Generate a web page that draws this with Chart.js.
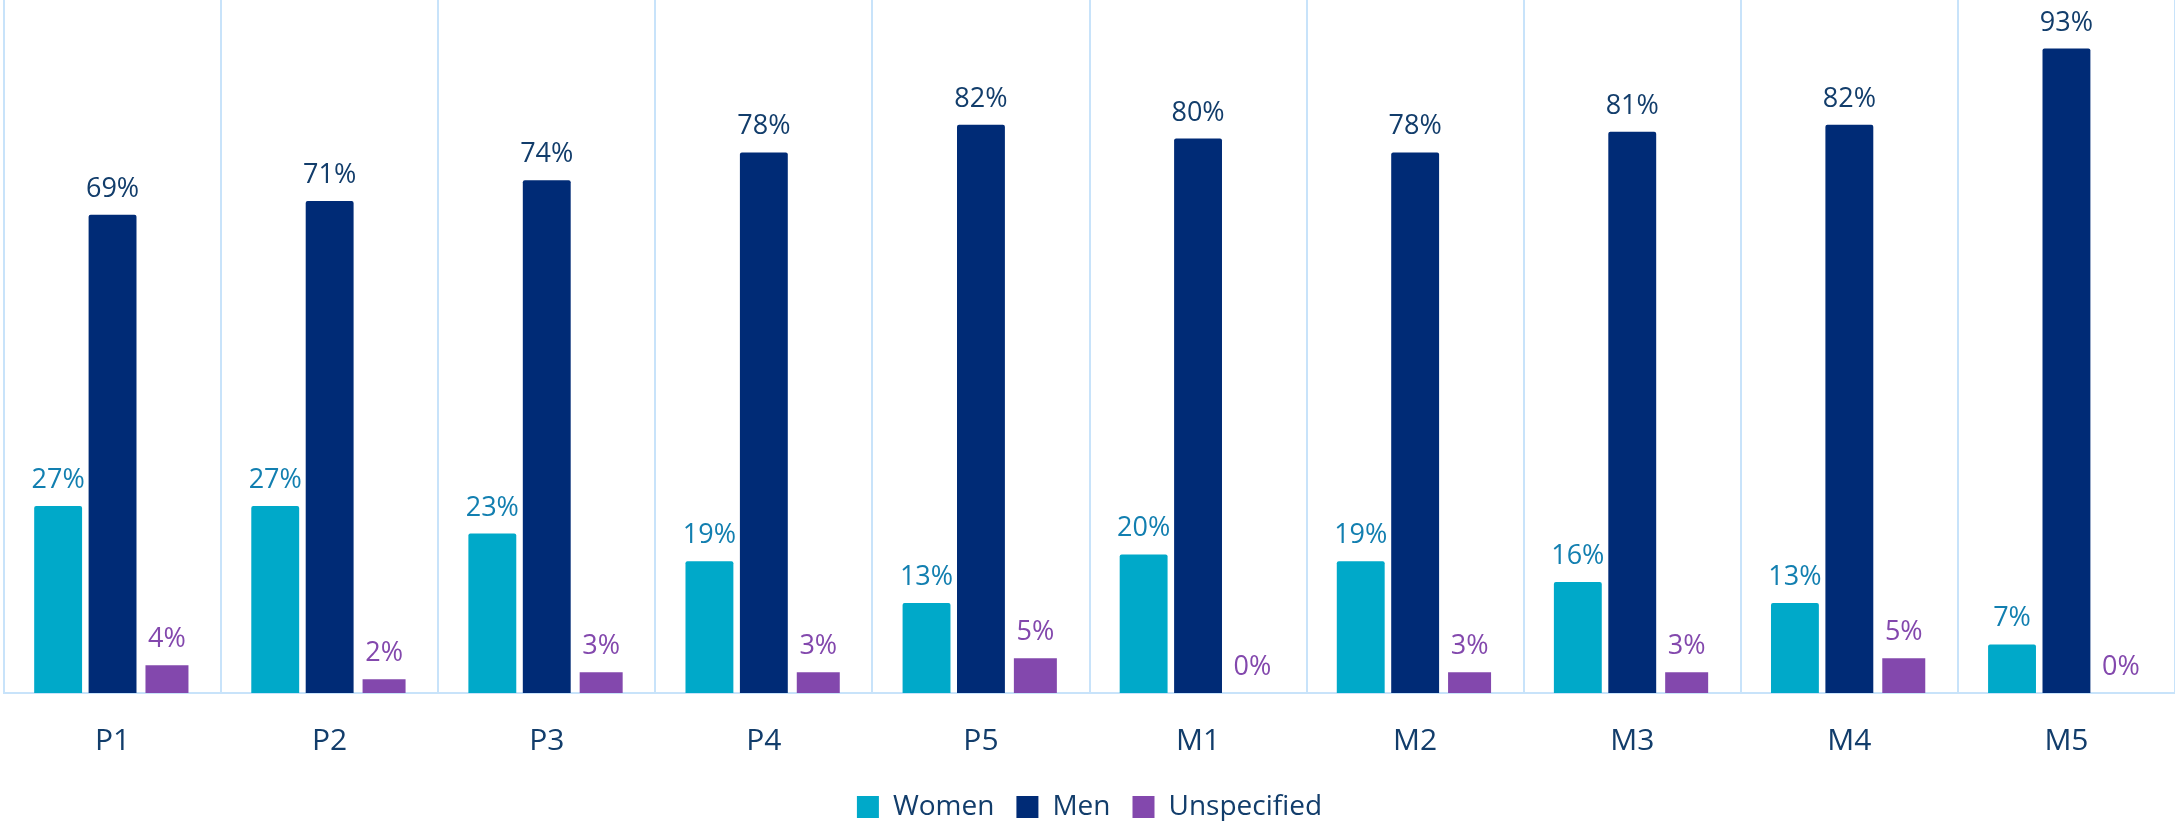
<!DOCTYPE html>
<html>
<head>
<meta charset="utf-8">
<script src="https://cdn.jsdelivr.net/npm/chart.js@4.4.1/dist/chart.umd.min.js"></script>
<style>
  html, body { margin: 0; padding: 0; background: #ffffff; }
  #wrap { width: 2175px; height: 821px; position: relative; }
</style>
</head>
<body>
<div id="wrap"><canvas id="c"></canvas></div>
<script>
const categories = ["P1", "P2", "P3", "P4", "P5", "M1", "M2", "M3", "M4", "M5"];
const women = [27, 27, 23, 19, 13, 20, 19, 16, 13, 7];
const men = [69, 71, 74, 78, 82, 80, 78, 81, 82, 93];
const unspecified = [4, 2, 3, 3, 5, 0, 3, 3, 5, 0];
const seriesNames = ["Women", "Men", "Unspecified"];

const FONT = "'Open Sans', 'DejaVu Sans', sans-serif";
const labelColors = ["#127fb0", "#123d6b", "#8348ad"];

const valueLabels = {
  id: 'valueLabels',
  afterDatasetsDraw(chart) {
    const ctx = chart.ctx;
    ctx.save();
    ctx.font = "27px " + FONT;
    ctx.textAlign = 'center';
    ctx.textBaseline = 'alphabetic';
    chart.data.datasets.forEach((ds, i) => {
      const meta = chart.getDatasetMeta(i);
      ctx.fillStyle = labelColors[i];
      meta.data.forEach((el, j) => {
        ctx.fillText(ds.data[j] + '%', el.x, el.y - 18);
      });
    });
    ctx.restore();
  }
};

new Chart(document.getElementById('c'), {
  type: 'bar',
  data: {
    labels: categories,
    datasets: [
      { label: seriesNames[0], data: women, backgroundColor: '#00a9c9', barPercentage: 0.88, categoryPercentage: 0.752, borderRadius: 2 },
      { label: seriesNames[1], data: men, backgroundColor: '#002b76', barPercentage: 0.88, categoryPercentage: 0.752, borderRadius: 2 },
      { label: seriesNames[2], data: unspecified, backgroundColor: '#8348ad', barPercentage: 0.79, categoryPercentage: 0.752 }
    ]
  },
  options: {
    responsive: true,
    maintainAspectRatio: false,
    animation: false,
    layout: { padding: { left: 4, right: 0, top: 0, bottom: -10 } },
    plugins: {
      tooltip: { enabled: false },
      legend: {
        position: 'bottom',
        labels: {
          color: '#123d6b',
          font: { family: FONT, size: 28 },
          boxWidth: 22,
          boxHeight: 22,
          padding: 22
        }
      }
    },
    scales: {
      x: {
        grid: { display: true, offset: true, color: '#c8e3fa', lineWidth: 2, drawTicks: false },
        border: { display: true, color: '#c8e3fa', width: 2 },
        ticks: { color: '#123d6b', font: { family: FONT, size: 30 }, padding: 30 },
        afterFit(scale) { scale.height = 78; }
      },
      y: {
        display: false,
        min: 0,
        max: 100
      }
    }
  },
  plugins: [valueLabels]
});
</script>
</body>
</html>
